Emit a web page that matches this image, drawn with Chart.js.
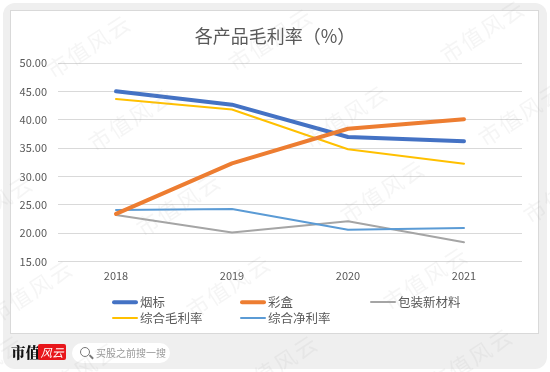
<!DOCTYPE html>
<html>
<head>
<meta charset="utf-8">
<script src="https://cdn.jsdelivr.net/npm/chart.js@4/dist/chart.umd.min.js"></script>
<style>
  html, body { margin: 0; padding: 0; background: #ffffff; width: 550px; height: 372px; overflow: hidden; font-family: "Noto Sans CJK SC", "Noto Sans", sans-serif; }
  #frame { position: absolute; left: 3px; top: 3px; width: 544px; height: 366px; background: #efefef; border-radius: 12px; }
  #card { position: absolute; left: 10px; top: 10px; width: 527px; height: 322px; background: #fff; border: 1px solid #d9d9d9; }
  #wrap { position: absolute; left: 12px; top: 12px; width: 525px; height: 320px; }
  #title { position: absolute; left: 0; width: 550px; top: 23px; text-align: center; font-size: 18px; line-height: 24px; color: #595959; white-space: nowrap; }
  #legend { position: absolute; left: 0; top: 0; width: 550px; height: 372px; pointer-events: none; }
  .li { position: absolute; height: 16px; font-size: 12.5px; color: #595959; line-height: 16px; white-space: nowrap; }
  .li i { position: absolute; left: 0; top: 50%; width: 26px; transform: translateY(-50%); }
  .li span { position: absolute; left: 28px; top: 0; }
  #brand { position: absolute; left: 11px; top: 343px; font-family: "Noto Serif CJK SC", "Noto Sans CJK SC", serif; font-weight: 900; font-size: 14.5px; color: #111; line-height: 18px; }
  #logo { position: absolute; left: 38px; top: 344px; width: 28px; height: 16px; background: #e8161b; color: #fff; font-size: 11.5px; font-style: italic; line-height: 16px; text-align: center; border-radius: 2px; }
  #search { position: absolute; left: 72px; top: 343px; width: 98px; height: 20px; background: #fff; border-radius: 10px; }
  #search .mag { position: absolute; left: 8px; top: 4px; width: 8px; height: 8px; border: 1.5px solid #777; border-radius: 50%; }
  #search .handle { position: absolute; left: 17px; top: 13px; width: 5px; height: 1.5px; background: #777; transform: rotate(45deg); }
  #search .t { position: absolute; left: 24px; top: 0; font-size: 10px; color: #999; line-height: 20px; white-space: nowrap; }
  #wm { position: absolute; left: 0; top: 0; width: 550px; height: 372px; overflow: hidden; pointer-events: none; }
  .w { position: absolute; font-size: 22px; color: rgba(160,160,160,0.11); transform: translate(-50%,-50%) rotate(-33deg); white-space: nowrap; letter-spacing: 2px; }
</style>
</head>
<body>
<div id="frame"></div>
<div id="card"></div>
<div id="wrap"><canvas id="c" width="525" height="320"></canvas></div>
<div id="title"></div>
<div id="legend"></div>
<div id="brand">市值</div>
<div id="logo">风云</div>
<div id="search"><div class="mag"></div><div class="handle"></div><div class="t">买股之前搜一搜</div></div>
<div id="wm"></div>
<script>
// ---- data ----
const categories = ["2018", "2019", "2020", "2021"];
const yanbiao   = [45.0, 42.65, 36.95, 36.2];   // 烟标
const caihe     = [23.4, 32.3, 38.4, 40.1];     // 彩盒
const baozhuang = [23.2, 20.1, 22.1, 18.4];     // 包装新材料
const maoli     = [43.65, 41.8, 34.8, 32.25];   // 综合毛利率
const jingli    = [24.1, 24.25, 20.6, 20.9];    // 综合净利率
const seriesNames = ["烟标", "彩盒", "包装新材料", "综合毛利率", "综合净利率"];
const yTicks = [15, 20, 25, 30, 35, 40, 45, 50];
const titleText = "各产品毛利率（%）";

const colors = ["#4472C4", "#ED7D31", "#A5A5A5", "#FFC000", "#5B9BD5"];
const widths = [4, 4, 2, 2, 2];
const seriesData = [yanbiao, caihe, baozhuang, maoli, jingli];
const drawOrder = [2, 1, 5, 3, 4]; // higher drawn first (underneath)

const datasets = seriesNames.map((n, i) => ({
  label: n,
  data: seriesData[i],
  borderColor: colors[i],
  backgroundColor: colors[i],
  borderWidth: widths[i],
  pointRadius: 0,
  tension: 0,
  fill: false,
  borderCapStyle: 'round',
  borderJoinStyle: 'round',
  order: drawOrder[i]
}));

const font = "'Noto Sans CJK SC', 'Noto Sans', sans-serif";
document.getElementById('title').textContent = titleText;

new Chart(document.getElementById('c'), {
  type: 'line',
  data: { labels: categories, datasets },
  options: {
    responsive: false,
    animation: false,
    devicePixelRatio: 1,
    layout: { padding: { left: 0, right: 15, top: 51, bottom: 40 } },
    plugins: {
      legend: { display: false },
      tooltip: { enabled: false },
      title: { display: false }
    },
    scales: {
      x: {
        offset: true,
        grid: { display: false, drawTicks: false },
        border: { display: false },
        ticks: { color: '#595959', font: { family: font, size: 11 }, padding: 8, maxRotation: 0 },
        afterFit: s => { s.height = 30.5; }
      },
      y: {
        min: yTicks[0],
        max: yTicks[yTicks.length - 1],
        afterBuildTicks: s => { s.ticks = yTicks.map(v => ({ value: v })); },
        grid: { color: '#d9d9d9', lineWidth: 1, drawTicks: false },
        border: { display: false },
        ticks: { color: '#595959', font: { family: font, size: 11 }, padding: 11, callback: v => Number(v).toFixed(2) },
        afterFit: s => { s.width = 46; }
      }
    }
  }
});

// ---- legend (HTML) ----
const legPos = [[112, 302], [240, 302], [370, 302], [112, 318], [240, 318]];
const legW = [3.5, 3.5, 2, 2, 2];
const leg = document.getElementById('legend');
seriesNames.forEach((n, i) => {
  const d = document.createElement('div');
  d.className = 'li';
  d.style.left = legPos[i][0] + 'px';
  d.style.top = (legPos[i][1] - 8) + 'px';
  d.innerHTML = '<i style="height:' + legW[i] + 'px;background:' + colors[i] + ';border-radius:2px"></i><span>' + n + '</span>';
  leg.appendChild(d);
});

// ---- watermark ----
const wm = document.getElementById('wm');
const wmPts = [[88,45],[130,118],[178,203],[228,285],[275,365],[270,38],[345,115],[382,190],[425,277],[470,358],[482,30],[520,113],[565,190],[30,290],[-10,205],[-20,365],[75,372]];
wmPts.forEach(p => {
  const s = document.createElement('div');
  s.className = 'w';
  s.style.left = p[0] + 'px';
  s.style.top = p[1] + 'px';
  s.textContent = '市值风云';
  wm.appendChild(s);
});
</script>
</body>
</html>
